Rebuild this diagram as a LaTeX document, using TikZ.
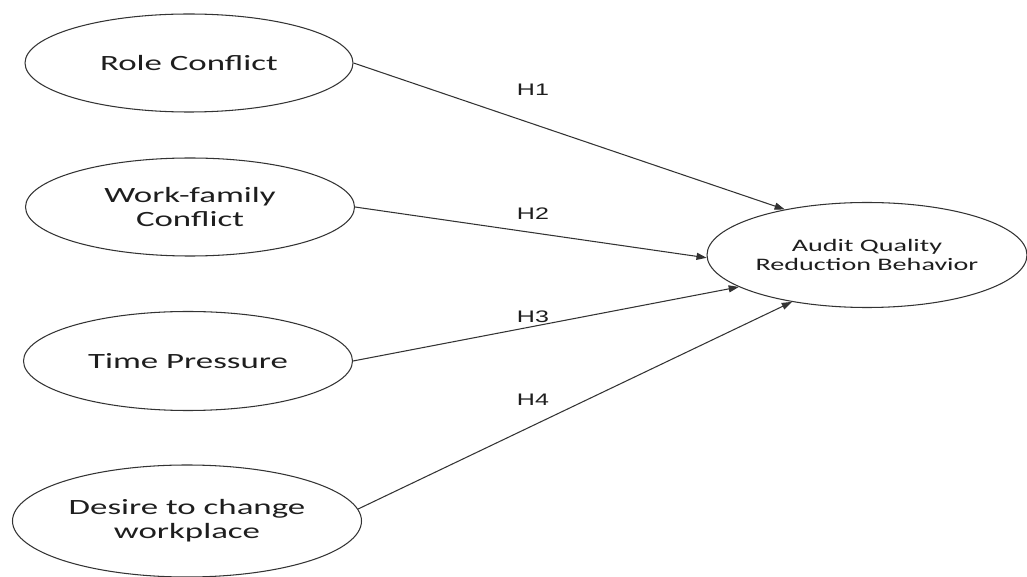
\documentclass[tikz,border=0pt]{standalone}
\usepackage{fontspec}
\setmainfont{Carlito}[FakeStretch=1.6]
\newfontfamily\hfont{Liberation Sans}[FakeStretch=1.5]
\usetikzlibrary{arrows.meta, shapes.geometric}
\definecolor{ln}{HTML}{333333}
\definecolor{tx}{HTML}{1E1E1E}

\begin{document}
\begin{tikzpicture}[
    every node/.style={text=tx},
    var/.style={ellipse, draw=ln, line width=0.6pt, inner sep=0pt, align=center,
                font=\fontsize{12.4}{13.8}\selectfont},
    dep/.style={ellipse, draw=ln, line width=0.6pt, inner sep=0pt, align=center,
                font=\fontsize{10}{11}\selectfont},
    hyp/.style={font=\hfont\fontsize{9.5}{11}\selectfont},
    arr/.style={-{Triangle[length=5.8pt, width=4pt]}, line width=0.6pt, color=ln},
]
\useasboundingbox (0,0) rectangle (20.54,11.54);

% the four antecedents
\node[var, minimum width=6.56cm, minimum height=1.96cm] (role) at (3.78, 10.28) {Role Conflict};
\node[var, minimum width=6.58cm, minimum height=1.96cm] (wfc) at (3.80, 7.40) {Work-family\\Conflict};
\node[var, minimum width=6.58cm, minimum height=1.98cm] (time) at (3.76, 4.32) {Time Pressure};
\node[var, minimum width=6.98cm, minimum height=2.24cm] (desire) at (3.74, 1.12) {Desire to change\\workplace};

% the outcome
\node[dep, minimum width=6.40cm, minimum height=2.10cm] (aqrb) at (17.34, 6.44) {Audit Quality\\Reduction Behavior};

% hypotheses
\draw[arr] (role.east) -- (aqrb.151);
\draw[arr] (wfc.east) -- (aqrb.181);
\draw[arr] (time.east) -- (aqrb.194);
\draw[arr] (desire.4) -- (aqrb.212);

\node[hyp] (h1) at (10.66, 9.74) {H1};
\node[hyp] (h2) at (10.66, 7.26) {H2};
\node[hyp] (h3) at (10.66, 5.20) {H3};
\node[hyp] (h4) at (10.66, 3.54) {H4};
\end{tikzpicture}
\end{document}
